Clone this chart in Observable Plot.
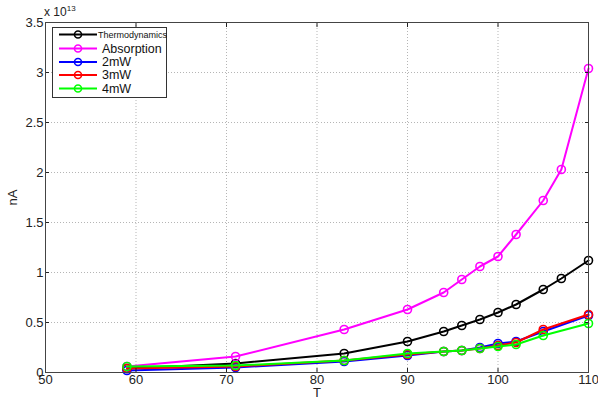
<!DOCTYPE html>
<html>
<head>
<meta charset="utf-8">
<script src="https://cdn.jsdelivr.net/npm/d3@7"></script>
<script src="https://cdn.jsdelivr.net/npm/@observablehq/plot@0.6"></script>
<style>
  html, body { margin: 0; padding: 0; background: #fff; }
  #wrap { position: relative; width: 598px; height: 398px; font-family: "Liberation Sans", Arial, sans-serif; }
  #exp { position: absolute; left: 44px; top: 4px; font-size: 12px; color: #222; }
  #exp sup { font-size: 8px; }
  #legend { position: absolute; left: 52px; top: 27px; }
</style>
</head>
<body>
<div id="wrap">
  <div id="chart"></div>
  <div id="exp">x 10<sup>13</sup></div>
  <div id="legend"></div>
</div>
<script>
// Temperatures (T)
const tFull = [59, 71, 83, 90, 94, 96, 98, 100, 102, 105, 107, 110];
const tPower = [59, 71, 83, 90, 94, 96, 98, 100, 102, 105, 110];

// nA values in units of 10^13
const thermodynamics = [0.04, 0.09, 0.19, 0.31, 0.41, 0.47, 0.53, 0.60, 0.68, 0.83, 0.94, 1.12];
const absorption     = [0.06, 0.16, 0.43, 0.63, 0.80, 0.93, 1.06, 1.16, 1.38, 1.72, 2.03, 3.04];
const mw2            = [0.02, 0.05, 0.11, 0.17, 0.21, 0.22, 0.25, 0.29, 0.31, 0.41, 0.57];
const mw3            = [0.04, 0.06, 0.12, 0.18, 0.21, 0.22, 0.24, 0.27, 0.30, 0.43, 0.58];
const mw4            = [0.06, 0.07, 0.12, 0.19, 0.21, 0.22, 0.24, 0.26, 0.28, 0.37, 0.49];

const seriesNames = ["Thermodynamics", "Absorption", "2mW", "3mW", "4mW"];
const seriesColors = ["#000000", "#ff00ff", "#0000ff", "#ff0000", "#00ff00"];
const xTicks = [50, 60, 70, 80, 90, 100, 110];
const yTicks = [0, 0.5, 1, 1.5, 2, 2.5, 3, 3.5];

const seriesValues = [thermodynamics, absorption, mw2, mw3, mw4];
const seriesT = [tFull, tFull, tPower, tPower, tPower];
const rows = [];
seriesNames.forEach((name, i) => {
  seriesValues[i].forEach((v, j) => rows.push({series: name, T: seriesT[i][j], nA: v}));
});

const marks = [
  Plot.gridX(xTicks.slice(1, -1), {stroke: "#b5b5b5", strokeOpacity: 1, strokeDasharray: "1,2"}),
  Plot.gridY(yTicks.slice(1, -1), {stroke: "#b5b5b5", strokeOpacity: 1, strokeDasharray: "1,2"}),
];
seriesNames.forEach((name, i) => {
  const d = rows.filter(r => r.series === name);
  marks.push(Plot.line(d, {x: "T", y: "nA", stroke: seriesColors[i], strokeWidth: 2}));
  marks.push(Plot.dot(d, {x: "T", y: "nA", stroke: seriesColors[i], r: 4, strokeWidth: 1.6, fill: "none"}));
});
marks.push(
  Plot.axisX({ticks: xTicks, tickSize: -4, tickPadding: 6, fontSize: 13, tickFormat: d => String(d), label: "T", labelAnchor: "center", labelArrow: "none", labelOffset: 24}),
  Plot.axisX({anchor: "top", ticks: xTicks, tickSize: -4, tickFormat: () => "", label: null}),
  Plot.axisY({ticks: yTicks, tickSize: -4, tickPadding: 6, fontSize: 13, tickFormat: d => String(d), label: "nA", labelAnchor: "center", labelArrow: "none", labelOffset: 38}),
  Plot.axisY({anchor: "right", ticks: yTicks, tickSize: -4, tickFormat: () => "", label: null}),
  Plot.frame({stroke: "#444", strokeWidth: 1})
);

const chart = Plot.plot({
  width: 598,
  height: 398,
  marginLeft: 45,
  marginRight: 10,
  marginTop: 22,
  marginBottom: 26,
  style: {fontFamily: "Liberation Sans, Arial, sans-serif", fontSize: "13px", color: "#222", background: "#fff"},
  x: {domain: [50, 110]},
  y: {domain: [0, 3.5]},
  marks
});
document.getElementById("chart").appendChild(chart);

// Legend
const lw = 115, lh = 71;
const svg = d3.select("#legend").append("svg").attr("width", lw).attr("height", lh)
  .style("font-family", "Liberation Sans, Arial, sans-serif");
svg.append("rect").attr("x", 0.5).attr("y", 0.5).attr("width", lw - 1).attr("height", lh - 1)
  .attr("fill", "#fff").attr("stroke", "#333");
const rowY = [7.5, 21.5, 35, 48, 61.5];
seriesNames.forEach((name, i) => {
  const g = svg.append("g").attr("transform", `translate(0,${rowY[i]})`);
  g.append("line").attr("x1", 7).attr("x2", 45).attr("stroke", seriesColors[i]).attr("stroke-width", 2);
  g.append("circle").attr("cx", 26).attr("r", 3.5).attr("fill", "none").attr("stroke", seriesColors[i]).attr("stroke-width", 1.6);
  g.append("text").attr("x", i === 0 ? 46 : 50).attr("dy", "0.35em")
    .attr("font-size", i === 0 ? 9 : 12.5).attr("fill", "#111").text(name);
});
</script>
</body>
</html>
